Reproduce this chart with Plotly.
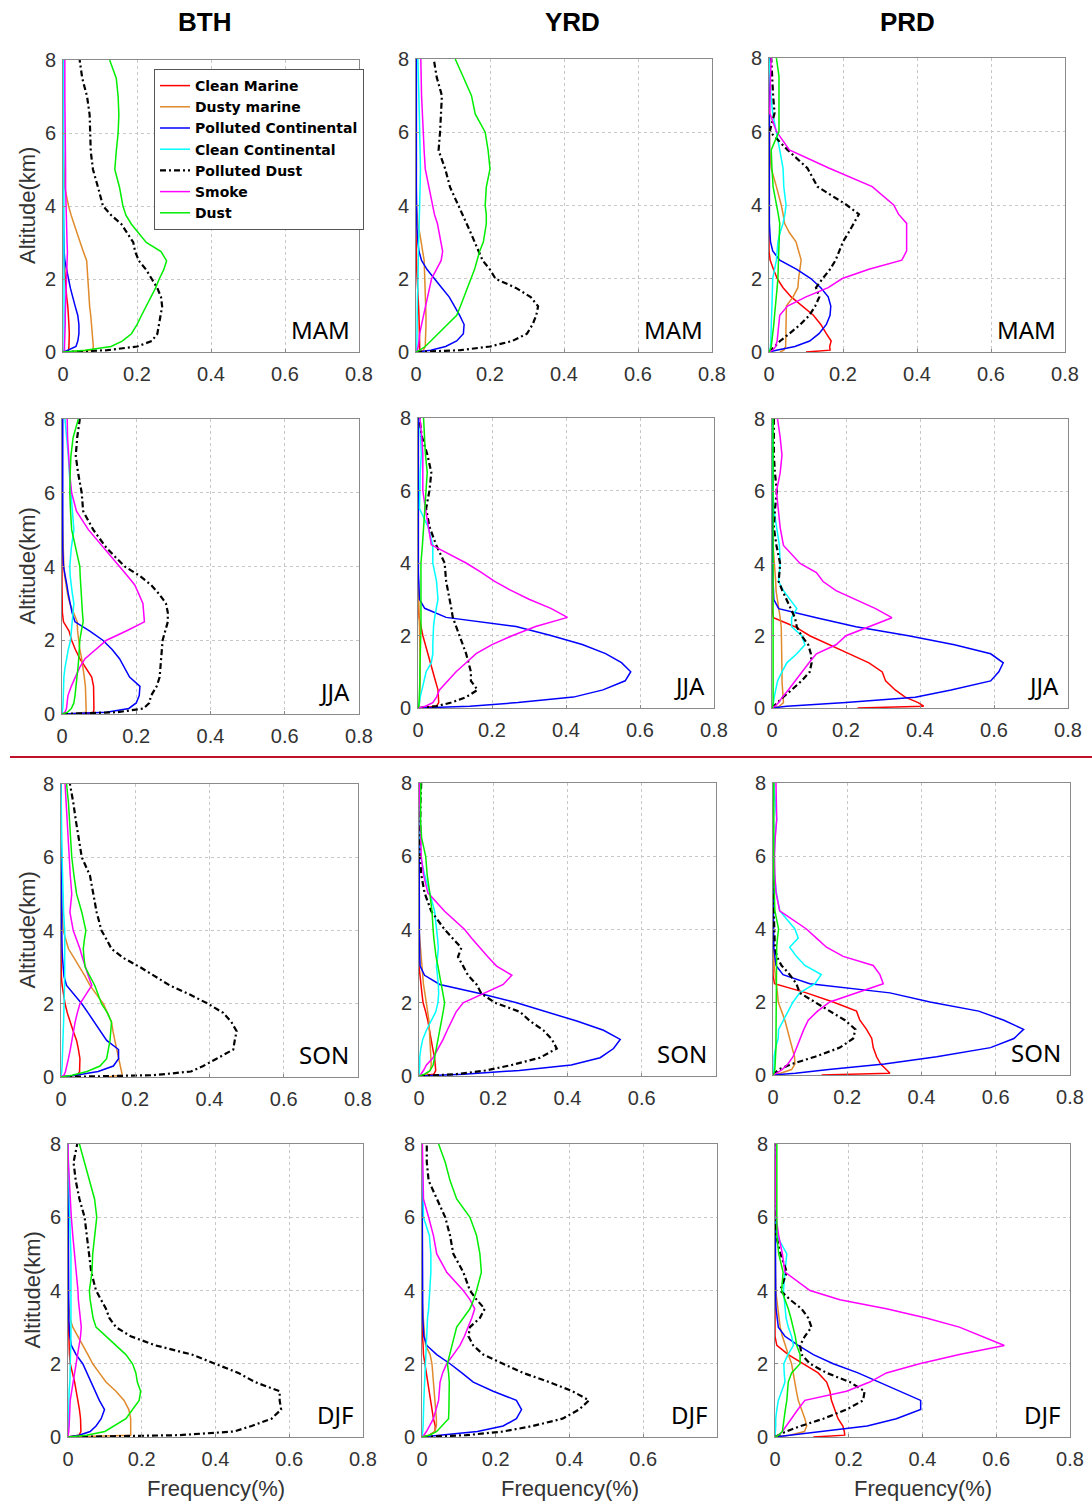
import plotly.graph_objects as go

# Altitude levels (km) shared by every profile
ALT = [0, 0.05, 0.15, 0.3, 0.5, 0.75, 1.0, 1.25, 1.5, 1.75, 2.0, 2.25, 2.5, 2.75,
       3.0, 3.25, 3.5, 3.75, 4.0, 4.5, 5.0, 5.5, 6.0, 6.5, 7.0, 7.5, 8.0]

SERIES = ["Clean Marine", "Dusty marine", "Polluted Continental", "Clean Continental",
          "Polluted Dust", "Smoke", "Dust"]
REGIONS = ["BTH", "YRD", "PRD"]
SEASONS = ["MAM", "JJA", "SON", "DJF"]
X_TICKS = [0, 0.2, 0.4, 0.6, 0.8]
Y_TICKS = [0, 2, 4, 6, 8]

# Each panel: rows in SERIES order, values = frequency (%) at ALT levels
BTH_MAM = [
    [0.005, 0.015, 0.016, 0.017, 0.017, 0.016, 0.015, 0.013, 0.01, 0.008, 0.005, 0.004, 0.002, 0.001, 0, 0, 0, 0, 0, 0, 0, 0, 0, 0, 0, 0, 0],
    [0.01, 0.08, 0.082, 0.081, 0.08, 0.078, 0.075, 0.072, 0.07, 0.069, 0.067, 0.066, 0.064, 0.055, 0.046, 0.038, 0.03, 0.022, 0.015, 0.005, 0.002, 0.001, 0.001, 0, 0, 0, 0],
    [0.003, 0.015, 0.035, 0.04, 0.043, 0.043, 0.04, 0.033, 0.026, 0.02, 0.015, 0.01, 0.005, 0.003, 0.002, 0.001, 0.001, 0.001, 0.001, 0.001, 0.001, 0.001, 0.001, 0.001, 0.001, 0.001, 0.001],
    [0.002, 0.003, 0.003, 0.003, 0.003, 0.003, 0.003, 0.003, 0.003, 0.003, 0.003, 0.003, 0.003, 0.003, 0.003, 0.003, 0.003, 0.003, 0.003, 0.003, 0.003, 0.002, 0.002, 0.001, 0.001, 0.001, 0.001],
    [0.0, 0.12, 0.2, 0.24, 0.255, 0.26, 0.265, 0.268, 0.265, 0.255, 0.24, 0.225, 0.205, 0.195, 0.19, 0.175, 0.158, 0.13, 0.108, 0.095, 0.081, 0.075, 0.074, 0.072, 0.065, 0.052, 0.045],
    [0.002, 0.004, 0.004, 0.005, 0.005, 0.006, 0.006, 0.007, 0.008, 0.009, 0.01, 0.011, 0.013, 0.012, 0.011, 0.01, 0.009, 0.009, 0.008, 0.007, 0.007, 0.006, 0.006, 0.005, 0.005, 0.005, 0.005],
    [0.0, 0.06, 0.13, 0.16, 0.185, 0.2, 0.212, 0.225, 0.239, 0.25, 0.26, 0.272, 0.28, 0.265, 0.225, 0.205, 0.185, 0.17, 0.162, 0.153, 0.14, 0.144, 0.149, 0.151, 0.149, 0.144, 0.126],
]
YRD_MAM = [
    [0.002, 0.01, 0.01, 0.01, 0.01, 0.009, 0.008, 0.007, 0.005, 0.004, 0.003, 0.002, 0.001, 0, 0, 0, 0, 0, 0, 0, 0, 0, 0, 0, 0, 0, 0],
    [0.003, 0.02, 0.025, 0.026, 0.027, 0.027, 0.027, 0.026, 0.026, 0.025, 0.025, 0.024, 0.022, 0.018, 0.015, 0.01, 0.005, 0.002, 0.001, 0, 0, 0, 0, 0, 0, 0, 0],
    [0.003, 0.04, 0.08, 0.11, 0.128, 0.13, 0.118, 0.105, 0.09, 0.07, 0.05, 0.03, 0.015, 0.008, 0.005, 0.003, 0.002, 0.002, 0.001, 0.001, 0.001, 0.001, 0.001, 0.001, 0.001, 0.001, 0.001],
    [0.002, 0.002, 0.003, 0.003, 0.003, 0.003, 0.003, 0.004, 0.004, 0.005, 0.005, 0.006, 0.006, 0.007, 0.007, 0.008, 0.009, 0.01, 0.01, 0.011, 0.012, 0.012, 0.01, 0.009, 0.008, 0.007, 0.005],
    [0.0, 0.12, 0.2, 0.26, 0.3, 0.315, 0.325, 0.33, 0.31, 0.27, 0.215, 0.2, 0.18, 0.17, 0.16, 0.148, 0.137, 0.126, 0.115, 0.092, 0.079, 0.061, 0.065, 0.068, 0.07, 0.056, 0.048],
    [0.002, 0.004, 0.006, 0.008, 0.01, 0.015, 0.02, 0.025, 0.03, 0.035, 0.042, 0.055, 0.068, 0.072, 0.068, 0.063, 0.058, 0.05, 0.045, 0.035, 0.025, 0.022, 0.019, 0.017, 0.015, 0.014, 0.013],
    [0.0, 0.01, 0.025, 0.04, 0.06, 0.085, 0.11, 0.12, 0.13, 0.14, 0.15, 0.158, 0.165, 0.172, 0.182, 0.186, 0.19, 0.19, 0.187, 0.19, 0.2, 0.195, 0.187, 0.16, 0.15, 0.128, 0.106],
]
PRD_MAM = [
    [0.1, 0.165, 0.164, 0.168, 0.155, 0.14, 0.12, 0.09, 0.06, 0.038, 0.022, 0.012, 0.003, 0, 0, 0, 0, 0, 0, 0, 0, 0, 0, 0, 0, 0, 0],
    [0.03, 0.04, 0.045, 0.045, 0.045, 0.045, 0.045, 0.047, 0.065, 0.078, 0.08, 0.083, 0.087, 0.08, 0.073, 0.055, 0.042, 0.038, 0.033, 0.02, 0.006, 0.002, 0.001, 0, 0, 0, 0],
    [0.0, 0.02, 0.07, 0.11, 0.135, 0.155, 0.165, 0.167, 0.16, 0.14, 0.113, 0.075, 0.029, 0.01, 0.004, 0.002, 0.001, 0.001, 0.001, 0.001, 0.001, 0.001, 0.001, 0.001, 0.001, 0.001, 0.001],
    [0.002, 0.003, 0.004, 0.005, 0.005, 0.006, 0.007, 0.008, 0.009, 0.01, 0.01, 0.015, 0.02, 0.022, 0.024, 0.03, 0.038, 0.043, 0.046, 0.04, 0.038, 0.029, 0.02, 0.01, 0.005, 0.002, 0.0],
    [0.0, 0.005, 0.015, 0.03, 0.055, 0.085, 0.109, 0.125, 0.136, 0.127, 0.145, 0.165, 0.18, 0.19, 0.2, 0.215, 0.23, 0.243, 0.21, 0.131, 0.104, 0.05, 0.002, 0.015, 0.011, 0.008, 0.006],
    [0.0, 0.01, 0.018, 0.022, 0.024, 0.027, 0.029, 0.05, 0.1, 0.16, 0.198, 0.27, 0.359, 0.372, 0.372, 0.372, 0.372, 0.35, 0.337, 0.279, 0.163, 0.055, 0.02, 0.002, 0.002, 0.004, 0.006],
    [0.0, 0.003, 0.006, 0.008, 0.01, 0.013, 0.015, 0.018, 0.02, 0.022, 0.024, 0.025, 0.026, 0.027, 0.028, 0.029, 0.029, 0.025, 0.02, 0.011, 0.008, 0.006, 0.027, 0.028, 0.027, 0.027, 0.02],
]
BTH_JJA = [
    [0.06, 0.085, 0.086, 0.086, 0.086, 0.085, 0.08, 0.065, 0.048, 0.036, 0.026, 0.019, 0.004, 0.001, 0, 0, 0, 0, 0, 0, 0, 0, 0, 0, 0, 0, 0],
    [0.02, 0.065, 0.065, 0.065, 0.064, 0.063, 0.06, 0.057, 0.053, 0.048, 0.044, 0.042, 0.041, 0.032, 0.021, 0.015, 0.01, 0.007, 0.005, 0.003, 0.002, 0.001, 0, 0, 0, 0, 0],
    [0.0, 0.12, 0.18, 0.2, 0.208, 0.21, 0.182, 0.168, 0.155, 0.135, 0.11, 0.075, 0.035, 0.027, 0.021, 0.017, 0.013, 0.008, 0.004, 0.002, 0.002, 0.002, 0.002, 0.002, 0.002, 0.002, 0.002],
    [0.0, 0.001, 0.002, 0.003, 0.003, 0.004, 0.005, 0.008, 0.012, 0.017, 0.023, 0.025, 0.027, 0.03, 0.032, 0.028, 0.025, 0.022, 0.021, 0.025, 0.032, 0.028, 0.022, 0.02, 0.017, 0.012, 0.008],
    [0.0, 0.15, 0.22, 0.235, 0.24, 0.255, 0.263, 0.265, 0.267, 0.269, 0.271, 0.278, 0.285, 0.285, 0.28, 0.262, 0.24, 0.209, 0.169, 0.12, 0.084, 0.057, 0.053, 0.044, 0.037, 0.041, 0.048],
    [0.0, 0.008, 0.012, 0.014, 0.016, 0.025, 0.035, 0.047, 0.062, 0.09, 0.12, 0.173, 0.222, 0.22, 0.218, 0.207, 0.196, 0.176, 0.155, 0.115, 0.071, 0.039, 0.026, 0.021, 0.017, 0.015, 0.014],
    [0.0, 0.015, 0.025, 0.032, 0.035, 0.038, 0.041, 0.043, 0.045, 0.046, 0.048, 0.052, 0.057, 0.055, 0.053, 0.051, 0.05, 0.049, 0.048, 0.036, 0.026, 0.023, 0.021, 0.022, 0.024, 0.03, 0.044],
]
YRD_JJA = [
    [0.0, 0.05, 0.056, 0.055, 0.054, 0.047, 0.04, 0.033, 0.027, 0.02, 0.013, 0.008, 0.003, 0.001, 0, 0, 0, 0, 0, 0, 0, 0, 0, 0, 0, 0, 0],
    [0.0, 0.003, 0.004, 0.005, 0.005, 0.006, 0.006, 0.006, 0.005, 0.005, 0.005, 0.004, 0.003, 0.003, 0.002, 0.001, 0.001, 0, 0, 0, 0, 0, 0, 0, 0, 0, 0],
    [0.0, 0.14, 0.27, 0.42, 0.5, 0.56, 0.575, 0.55, 0.507, 0.444, 0.359, 0.265, 0.076, 0.018, 0.004, 0.002, 0.002, 0.001, 0.001, 0.001, 0.001, 0.001, 0.001, 0.001, 0.001, 0.001, 0.001],
    [0.0, 0.002, 0.004, 0.006, 0.01, 0.015, 0.022, 0.036, 0.04, 0.04, 0.04, 0.042, 0.045, 0.05, 0.054, 0.052, 0.05, 0.045, 0.04, 0.04, 0.027, 0.004, 0.004, 0.006, 0.009, 0.006, 0.004],
    [0.0, 0.05, 0.09, 0.13, 0.161, 0.143, 0.143, 0.137, 0.13, 0.121, 0.112, 0.103, 0.094, 0.09, 0.085, 0.08, 0.076, 0.074, 0.072, 0.049, 0.031, 0.022, 0.031, 0.036, 0.025, 0.01, 0.004],
    [0.0, 0.02, 0.04, 0.05, 0.058, 0.08, 0.103, 0.13, 0.157, 0.2, 0.256, 0.318, 0.404, 0.359, 0.3, 0.25, 0.206, 0.17, 0.13, 0.036, 0.027, 0.02, 0.013, 0.013, 0.013, 0.01, 0.005],
    [0.0, 0.002, 0.003, 0.004, 0.004, 0.005, 0.005, 0.006, 0.007, 0.007, 0.008, 0.008, 0.008, 0.008, 0.008, 0.008, 0.008, 0.008, 0.008, 0.012, 0.015, 0.018, 0.02, 0.025, 0.02, 0.017, 0.015],
]
PRD_JJA = [
    [0.231, 0.41, 0.395, 0.36, 0.333, 0.307, 0.298, 0.262, 0.209, 0.156, 0.102, 0.062, 0.004, 0, 0, 0, 0, 0, 0, 0, 0, 0, 0, 0, 0, 0, 0],
    [0.0, 0.02, 0.031, 0.03, 0.028, 0.027, 0.027, 0.027, 0.027, 0.027, 0.027, 0.025, 0.022, 0.018, 0.013, 0.011, 0.01, 0.008, 0.006, 0.003, 0.001, 0, 0, 0, 0, 0, 0],
    [0.0, 0.04, 0.2, 0.387, 0.484, 0.591, 0.613, 0.625, 0.591, 0.493, 0.369, 0.227, 0.12, 0.018, 0.005, 0.003, 0.003, 0.002, 0.002, 0.002, 0.002, 0.002, 0.002, 0.002, 0.002, 0.002, 0.002],
    [0.0, 0.002, 0.004, 0.006, 0.01, 0.015, 0.027, 0.04, 0.067, 0.089, 0.08, 0.053, 0.053, 0.067, 0.049, 0.031, 0.018, 0.02, 0.022, 0.02, 0.012, 0.005, 0.003, 0.002, 0.002, 0.001, 0.001],
    [0.0, 0.005, 0.015, 0.03, 0.053, 0.08, 0.102, 0.107, 0.105, 0.098, 0.08, 0.067, 0.062, 0.05, 0.04, 0.028, 0.018, 0.02, 0.022, 0.012, 0.005, 0.008, 0.013, 0.008, 0.005, 0.005, 0.005],
    [0.0, 0.008, 0.018, 0.028, 0.044, 0.062, 0.08, 0.1, 0.12, 0.173, 0.2, 0.262, 0.324, 0.28, 0.227, 0.173, 0.138, 0.12, 0.076, 0.031, 0.022, 0.018, 0.012, 0.022, 0.027, 0.022, 0.015],
    [0.0, 0.002, 0.003, 0.003, 0.003, 0.003, 0.003, 0.003, 0.003, 0.003, 0.003, 0.003, 0.003, 0.003, 0.003, 0.003, 0.003, 0.003, 0.003, 0.003, 0.003, 0.003, 0.003, 0.003, 0.003, 0.003, 0.003],
]
BTH_SON = [
    [0.0, 0.045, 0.05, 0.051, 0.051, 0.047, 0.042, 0.033, 0.024, 0.017, 0.011, 0.006, 0.003, 0.001, 0, 0, 0, 0, 0, 0, 0, 0, 0, 0, 0, 0, 0],
    [0.121, 0.165, 0.163, 0.16, 0.157, 0.151, 0.145, 0.14, 0.136, 0.125, 0.114, 0.096, 0.078, 0.065, 0.051, 0.035, 0.02, 0.012, 0.006, 0.003, 0.001, 0, 0, 0, 0, 0, 0],
    [0.0, 0.04, 0.1, 0.141, 0.155, 0.155, 0.123, 0.107, 0.091, 0.073, 0.056, 0.035, 0.015, 0.008, 0.005, 0.004, 0.003, 0.002, 0.002, 0.002, 0.002, 0.001, 0.001, 0.001, 0.001, 0, 0],
    [0.0, 0.001, 0.002, 0.003, 0.004, 0.005, 0.005, 0.006, 0.007, 0.008, 0.008, 0.009, 0.01, 0.01, 0.01, 0.01, 0.01, 0.01, 0.01, 0.007, 0.005, 0.004, 0.003, 0.002, 0.002, 0.001, 0.0],
    [0.0, 0.25, 0.35, 0.383, 0.419, 0.464, 0.468, 0.473, 0.459, 0.437, 0.396, 0.347, 0.293, 0.253, 0.213, 0.168, 0.136, 0.123, 0.109, 0.096, 0.087, 0.078, 0.056, 0.047, 0.04, 0.033, 0.024],
    [0.0, 0.008, 0.012, 0.016, 0.02, 0.025, 0.029, 0.034, 0.038, 0.044, 0.051, 0.067, 0.083, 0.074, 0.065, 0.058, 0.051, 0.042, 0.033, 0.024, 0.029, 0.025, 0.022, 0.018, 0.015, 0.013, 0.011],
    [0.0, 0.03, 0.07, 0.105, 0.123, 0.128, 0.132, 0.134, 0.136, 0.125, 0.109, 0.1, 0.091, 0.078, 0.065, 0.062, 0.06, 0.063, 0.067, 0.056, 0.042, 0.035, 0.029, 0.026, 0.024, 0.02, 0.015],
]
YRD_SON = [
    [0.0, 0.04, 0.045, 0.044, 0.042, 0.037, 0.033, 0.029, 0.024, 0.018, 0.011, 0.008, 0.005, 0.002, 0, 0, 0, 0, 0, 0, 0, 0, 0, 0, 0, 0, 0],
    [0.0, 0.02, 0.03, 0.033, 0.032, 0.03, 0.029, 0.028, 0.027, 0.024, 0.02, 0.016, 0.012, 0.01, 0.007, 0.005, 0.003, 0.001, 0, 0, 0, 0, 0, 0, 0, 0, 0],
    [0.0, 0.12, 0.27, 0.41, 0.488, 0.524, 0.542, 0.497, 0.425, 0.344, 0.263, 0.164, 0.056, 0.015, 0.003, 0.002, 0.001, 0.001, 0.001, 0.001, 0.001, 0.001, 0.001, 0.001, 0, 0, 0],
    [0.0, 0.001, 0.001, 0.002, 0.002, 0.005, 0.01, 0.02, 0.033, 0.045, 0.051, 0.053, 0.052, 0.05, 0.047, 0.05, 0.052, 0.05, 0.047, 0.042, 0.029, 0.015, 0.004, 0.003, 0.002, 0.002, 0.001],
    [0.0, 0.1, 0.18, 0.25, 0.326, 0.371, 0.358, 0.335, 0.299, 0.272, 0.205, 0.168, 0.155, 0.132, 0.119, 0.105, 0.114, 0.092, 0.069, 0.033, 0.015, 0.006, 0.003, 0.003, 0.003, 0.004, 0.006],
    [0.0, 0.005, 0.012, 0.02, 0.038, 0.052, 0.065, 0.076, 0.087, 0.1, 0.119, 0.173, 0.227, 0.25, 0.209, 0.186, 0.164, 0.143, 0.123, 0.069, 0.024, 0.012, 0.006, 0.004, 0.003, 0.002, 0.001],
    [0.0, 0.015, 0.03, 0.038, 0.042, 0.047, 0.051, 0.055, 0.06, 0.065, 0.069, 0.065, 0.06, 0.055, 0.051, 0.046, 0.042, 0.04, 0.038, 0.035, 0.029, 0.022, 0.018, 0.007, 0.004, 0.004, 0.005],
]
PRD_SON = [
    [0.131, 0.315, 0.305, 0.29, 0.279, 0.27, 0.266, 0.252, 0.234, 0.225, 0.162, 0.09, 0.004, 0, 0, 0, 0, 0, 0, 0, 0, 0, 0, 0, 0, 0, 0],
    [0.0, 0.02, 0.05, 0.059, 0.058, 0.052, 0.045, 0.038, 0.032, 0.023, 0.014, 0.012, 0.01, 0.006, 0.003, 0.002, 0.001, 0, 0, 0, 0, 0, 0, 0, 0, 0, 0],
    [0.0, 0.06, 0.15, 0.3, 0.441, 0.586, 0.649, 0.675, 0.622, 0.554, 0.423, 0.315, 0.099, 0.027, 0.008, 0.004, 0.002, 0.002, 0.001, 0.001, 0.001, 0.001, 0.001, 0.001, 0.001, 0.001, 0.001],
    [0.0, 0.001, 0.002, 0.003, 0.003, 0.007, 0.014, 0.015, 0.027, 0.041, 0.054, 0.072, 0.113, 0.13, 0.086, 0.063, 0.045, 0.068, 0.059, 0.018, 0.009, 0.004, 0.003, 0.005, 0.01, 0.005, 0.002],
    [0.0, 0.005, 0.015, 0.05, 0.113, 0.18, 0.216, 0.222, 0.194, 0.153, 0.113, 0.072, 0.063, 0.045, 0.023, 0.01, 0.005, 0.004, 0.003, 0.002, 0.001, 0, 0, 0, 0, 0, 0],
    [0.0, 0.01, 0.025, 0.04, 0.054, 0.063, 0.072, 0.083, 0.095, 0.12, 0.153, 0.225, 0.297, 0.288, 0.27, 0.189, 0.144, 0.117, 0.09, 0.018, 0.008, 0.005, 0.004, 0.006, 0.01, 0.009, 0.008],
    [0.0, 0.003, 0.005, 0.006, 0.007, 0.008, 0.008, 0.008, 0.008, 0.008, 0.008, 0.009, 0.01, 0.01, 0.01, 0.01, 0.01, 0.012, 0.015, 0.005, 0.003, 0.002, 0.002, 0.002, 0.002, 0.002, 0.002],
]
BTH_DJF = [
    [0.0, 0.03, 0.035, 0.035, 0.034, 0.031, 0.027, 0.023, 0.018, 0.012, 0.006, 0.004, 0.003, 0.001, 0, 0, 0, 0, 0, 0, 0, 0, 0, 0, 0, 0, 0],
    [0.0, 0.17, 0.17, 0.17, 0.17, 0.165, 0.152, 0.13, 0.103, 0.085, 0.067, 0.054, 0.04, 0.027, 0.013, 0.005, 0.002, 0.001, 0, 0, 0, 0, 0, 0, 0, 0, 0],
    [0.0, 0.03, 0.06, 0.076, 0.09, 0.099, 0.085, 0.074, 0.063, 0.052, 0.04, 0.022, 0.009, 0.005, 0.003, 0.002, 0.002, 0.002, 0.002, 0.001, 0.001, 0.001, 0, 0, 0, 0, 0],
    [0.0, 0.001, 0.001, 0.001, 0.001, 0.002, 0.002, 0.003, 0.005, 0.006, 0.007, 0.007, 0.008, 0.008, 0.008, 0.008, 0.008, 0.008, 0.008, 0.01, 0.008, 0.006, 0.005, 0.003, 0.002, 0.001, 0.0],
    [0.0, 0.3, 0.45, 0.498, 0.552, 0.578, 0.574, 0.574, 0.507, 0.462, 0.399, 0.336, 0.238, 0.17, 0.13, 0.112, 0.103, 0.09, 0.076, 0.063, 0.056, 0.051, 0.045, 0.031, 0.021, 0.015, 0.025],
    [0.0, 0.001, 0.002, 0.003, 0.003, 0.005, 0.006, 0.01, 0.013, 0.017, 0.021, 0.026, 0.031, 0.034, 0.036, 0.033, 0.03, 0.028, 0.027, 0.022, 0.018, 0.013, 0.009, 0.006, 0.003, 0.001, 0.0],
    [0.0, 0.05, 0.1, 0.126, 0.157, 0.175, 0.193, 0.197, 0.188, 0.184, 0.175, 0.157, 0.13, 0.103, 0.076, 0.068, 0.063, 0.06, 0.058, 0.065, 0.067, 0.072, 0.078, 0.072, 0.058, 0.045, 0.031],
]
YRD_DJF = [
    [0.0, 0.02, 0.035, 0.036, 0.031, 0.027, 0.022, 0.018, 0.015, 0.012, 0.006, 0.004, 0.003, 0.001, 0, 0, 0, 0, 0, 0, 0, 0, 0, 0, 0, 0, 0],
    [0.0, 0.02, 0.035, 0.039, 0.039, 0.037, 0.035, 0.033, 0.031, 0.029, 0.027, 0.022, 0.01, 0.007, 0.005, 0.002, 0.001, 0, 0, 0, 0, 0, 0, 0, 0, 0, 0],
    [0.0, 0.05, 0.15, 0.22, 0.256, 0.27, 0.256, 0.193, 0.139, 0.108, 0.076, 0.04, 0.013, 0.005, 0.003, 0.002, 0.002, 0.002, 0.002, 0.002, 0.001, 0.001, 0.001, 0.001, 0, 0, 0],
    [0.0, 0.001, 0.002, 0.003, 0.003, 0.004, 0.005, 0.006, 0.007, 0.007, 0.008, 0.009, 0.01, 0.011, 0.012, 0.015, 0.018, 0.02, 0.021, 0.024, 0.024, 0.02, 0.004, 0.003, 0.002, 0.001, 0.0],
    [0.0, 0.12, 0.22, 0.3, 0.381, 0.426, 0.453, 0.408, 0.345, 0.274, 0.22, 0.166, 0.139, 0.126, 0.13, 0.157, 0.17, 0.148, 0.13, 0.112, 0.085, 0.076, 0.063, 0.04, 0.018, 0.013, 0.013],
    [0.0, 0.005, 0.012, 0.02, 0.031, 0.038, 0.045, 0.047, 0.049, 0.056, 0.067, 0.085, 0.103, 0.115, 0.126, 0.135, 0.143, 0.13, 0.112, 0.067, 0.04, 0.031, 0.018, 0.004, 0.003, 0.002, 0.001],
    [0.0, 0.02, 0.04, 0.054, 0.072, 0.073, 0.074, 0.074, 0.074, 0.072, 0.069, 0.075, 0.081, 0.087, 0.094, 0.112, 0.13, 0.14, 0.148, 0.161, 0.157, 0.148, 0.13, 0.094, 0.076, 0.063, 0.045],
]
PRD_DJF = [
    [0.104, 0.189, 0.188, 0.184, 0.171, 0.162, 0.153, 0.149, 0.14, 0.117, 0.077, 0.036, 0.005, 0, 0, 0, 0, 0, 0, 0, 0, 0, 0, 0, 0, 0, 0],
    [0.0, 0.04, 0.08, 0.086, 0.081, 0.072, 0.063, 0.058, 0.054, 0.05, 0.045, 0.036, 0.027, 0.02, 0.014, 0.011, 0.009, 0.005, 0.002, 0.001, 0, 0, 0, 0, 0, 0, 0],
    [0.0, 0.04, 0.12, 0.25, 0.329, 0.395, 0.395, 0.338, 0.284, 0.225, 0.158, 0.104, 0.063, 0.027, 0.009, 0.005, 0.003, 0.002, 0.002, 0.001, 0.001, 0, 0, 0, 0, 0, 0],
    [0.0, 0.001, 0.001, 0.002, 0.002, 0.005, 0.009, 0.018, 0.027, 0.025, 0.024, 0.035, 0.05, 0.045, 0.036, 0.03, 0.027, 0.025, 0.023, 0.027, 0.032, 0.005, 0.002, 0.001, 0.001, 0.0, 0.0],
    [0.0, 0.01, 0.03, 0.07, 0.131, 0.194, 0.239, 0.243, 0.203, 0.14, 0.095, 0.072, 0.068, 0.081, 0.099, 0.09, 0.072, 0.041, 0.014, 0.032, 0.015, 0.003, 0, 0, 0, 0, 0],
    [0.0, 0.01, 0.02, 0.03, 0.045, 0.062, 0.081, 0.194, 0.257, 0.302, 0.392, 0.5, 0.622, 0.559, 0.5, 0.41, 0.302, 0.176, 0.095, 0.027, 0.02, 0.01, 0.003, 0.002, 0.001, 0.001, 0.0],
    [0.0, 0.01, 0.02, 0.022, 0.023, 0.028, 0.032, 0.034, 0.036, 0.045, 0.068, 0.068, 0.059, 0.055, 0.05, 0.043, 0.036, 0.027, 0.018, 0.022, 0.01, 0.005, 0.005, 0.005, 0.005, 0.005, 0.005],
]

PANEL_DATA = [
    [BTH_MAM, YRD_MAM, PRD_MAM],
    [BTH_JJA, YRD_JJA, PRD_JJA],
    [BTH_SON, YRD_SON, PRD_SON],
    [BTH_DJF, YRD_DJF, PRD_DJF],
]

# ---------------- styling / layout ----------------
W, H = 1092, 1504
COLORS = ["#ff0000", "#e08a2c", "#0000ff", "#00ffff", "#000000", "#ff00ff", "#00ee00"]

# plot-area pixel boxes (x0, x1, ytop, ybottom) per row/col
BOXES = [
    [(63, 359, 60, 352), (416, 712, 59, 352), (769, 1065, 58, 352)],
    [(62, 359, 419, 714), (418, 714, 418, 708), (772, 1068, 419, 708)],
    [(61, 358, 784, 1077), (419, 716, 783, 1076), (773, 1070, 783, 1075)],
    [(68, 363, 1144, 1437), (422, 717, 1144, 1437), (775, 1070, 1144, 1437)],
]
NO_LAST_XTICK = {(2, 1), (3, 1)}

TICKFONT = dict(family="Arial, Liberation Sans, sans-serif", size=20, color="#333333")
fig = go.Figure()
layout = {}
annotations = []
k = 0
for r in range(4):
    for c in range(3):
        k += 1
        x0, x1, yt, yb = BOXES[r][c]
        xa = "x" if k == 1 else f"x{k}"
        ya = "y" if k == 1 else f"y{k}"
        data = PANEL_DATA[r][c]
        for s, name in enumerate(SERIES):
            is_pd = name == "Polluted Dust"
            fig.add_trace(go.Scatter(
                x=data[s], y=ALT, mode="lines", name=f"<b>{name}</b>",
                xaxis=xa, yaxis=ya, showlegend=(k == 1),
                line=dict(color=COLORS[s], width=2.2 if is_pd else 1.5,
                          dash="6px,3px,2px,3px" if is_pd else "solid"),
            ))
        xt = X_TICKS[:-1] if (r, c) in NO_LAST_XTICK else X_TICKS
        layout["xaxis" if k == 1 else f"xaxis{k}"] = dict(
            domain=[x0 / W, x1 / W], anchor=ya, range=[0, 0.8],
            tickvals=xt, ticktext=[("%g" % v) for v in xt],
            showgrid=True, gridcolor="#c8c8c8", griddash="dot", gridwidth=1,
            showline=True, linecolor="#8a8a8a", linewidth=1, mirror=True,
            ticks="inside", ticklen=3, tickcolor="#8a8a8a", ticklabelstandoff=4,
            zeroline=False, tickfont=TICKFONT, fixedrange=True, automargin=False,
        )
        layout["yaxis" if k == 1 else f"yaxis{k}"] = dict(
            domain=[1 - yb / H, 1 - yt / H], anchor=xa, range=[0, 8],
            tickvals=Y_TICKS, ticktext=[str(v) for v in Y_TICKS],
            showgrid=True, gridcolor="#c8c8c8", griddash="dot", gridwidth=1,
            showline=True, linecolor="#8a8a8a", linewidth=1, mirror=True,
            ticks="inside", ticklen=3, tickcolor="#8a8a8a", ticklabelstandoff=2,
            zeroline=False, tickfont=TICKFONT, fixedrange=True, automargin=False,
        )
        # season label
        annotations.append(dict(
            text=SEASONS[r], xref=f"{xa} domain", yref=f"{ya} domain",
            x=0.975, y=0.015, xanchor="right", yanchor="bottom", showarrow=False,
            font=dict(family="Noto Sans, Open Sans, sans-serif", size=24, color="#000000"),
        ))
        if c == 0:
            annotations.append(dict(
                text="Altitude(km)", xref="paper", yref="paper",
                x=(27 if r < 3 else 32) / W, y=1 - ((yt + yb) / 2) / H,
                xanchor="center", yanchor="middle", textangle=-90, showarrow=False,
                font=dict(family="Arial, Liberation Sans, sans-serif", size=22, color="#333333"),
            ))
        if r == 3:
            annotations.append(dict(
                text="Frequency(%)", xref="paper", yref="paper",
                x=((x0 + x1) / 2) / W, y=1 - 1488 / H,
                xanchor="center", yanchor="middle", showarrow=False,
                font=dict(family="Arial, Liberation Sans, sans-serif", size=22, color="#333333"),
            ))

for name, xc in zip(REGIONS, [204, 572, 907]):
    annotations.append(dict(
        text=f"<b>{name}</b>", xref="paper", yref="paper", x=xc / W, y=1 - 22 / H,
        xanchor="center", yanchor="middle", showarrow=False,
        font=dict(family="Arial, Liberation Sans, sans-serif", size=26, color="#000000"),
    ))

layout["annotations"] = annotations
layout["shapes"] = [dict(type="line", xref="paper", yref="paper",
                         x0=10 / W, x1=1.0, y0=1 - 757 / H, y1=1 - 757 / H,
                         line=dict(color="#c0102a", width=2))]
layout["legend"] = dict(
    x=154 / W, y=1 - 69 / H, xanchor="left", yanchor="top",
    bgcolor="white", bordercolor="#555555", borderwidth=1,
    font=dict(family="DejaVu Sans, Arial, sans-serif", size=14, color="#000000"),
    itemwidth=30, tracegroupgap=0,
)
fig.update_layout(**layout)
fig.update_layout(width=W, height=H, margin=dict(l=0, r=0, t=0, b=0, autoexpand=False),
                  paper_bgcolor="white", plot_bgcolor="white",
                  font=dict(family="Arial, Liberation Sans, sans-serif"))
fig.write_html("out.html")
